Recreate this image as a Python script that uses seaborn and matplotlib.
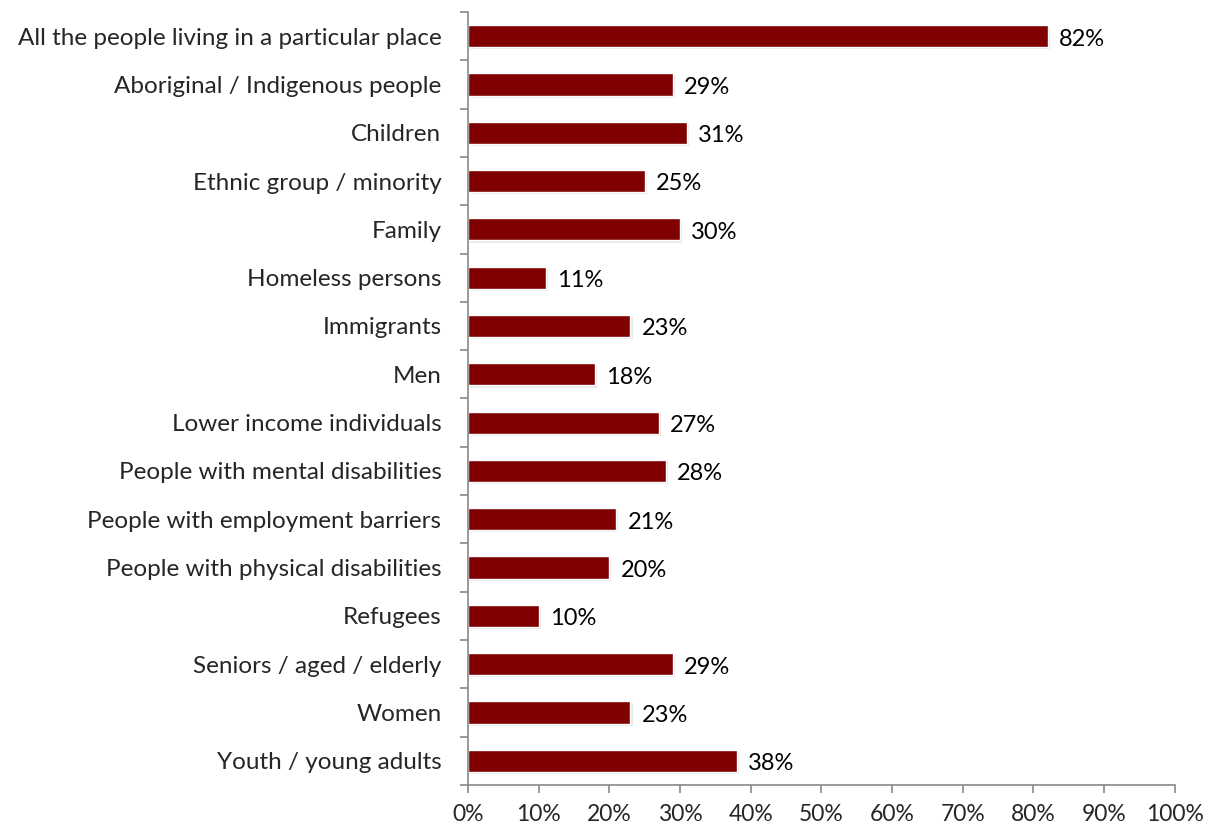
import matplotlib
matplotlib.use("Agg")
import matplotlib.pyplot as plt
import matplotlib.patheffects as pe
from matplotlib.ticker import FixedLocator, PercentFormatter
import seaborn as sns
import pandas as pd
import numpy as np

sns.set_style("white")
plt.rcParams["font.family"] = ["Lato", "DejaVu Sans"]

# data
categories = [
    "All the people living in a particular place",
    "Aboriginal / Indigenous people",
    "Children",
    "Ethnic group / minority",
    "Family",
    "Homeless persons",
    "Immigrants",
    "Men",
    "Lower income individuals",
    "People with mental disabilities",
    "People with employment barriers",
    "People with physical disabilities",
    "Refugees",
    "Seniors / aged / elderly",
    "Women",
    "Youth / young adults",
]
values = [82, 29, 31, 25, 30, 11, 23, 18, 27, 28, 21, 20, 10, 29, 23, 38]
x_ticks = list(range(0, 101, 10))

df = pd.DataFrame({"category": categories, "pct": values})

fig = plt.figure(figsize=(12.12, 8.31), dpi=100)
ax = fig.add_axes([0.386, 0.0554, 0.5834, 0.9302])

sns.barplot(data=df, x="pct", y="category", orient="h", color="#7f0000",
            saturation=1, width=0.46, ax=ax)

# faint drop shadow like the original
for p in ax.patches:
    p.set_path_effects([pe.SimplePatchShadow(offset=(1.5, -1.5), shadow_rgbFace="#aaaaaa", alpha=0.25),
                        pe.Normal()])

for i, v in enumerate(values):
    ax.text(v + 1.6, i + 0.06, f"{v}%", va="center", ha="left", fontsize=17, color="black")

ax.set_xlim(0, 100)
ax.set_ylim(len(categories) - 0.5, -0.5)
ax.set_xticks(x_ticks)
ax.xaxis.set_major_formatter(PercentFormatter(decimals=0))
ax.set_xlabel("")
ax.set_ylabel("")

# y tick marks at category boundaries only
ax.tick_params(axis="y", which="major", length=0, pad=19, labelsize=17.5)
ax.yaxis.set_minor_locator(FixedLocator(np.arange(-0.5, len(categories), 1.0)))
ax.tick_params(axis="y", which="minor", length=6, color="#898989", width=1.2, direction="out", left=True)
ax.tick_params(axis="x", which="major", length=6, color="#898989", width=1.2, direction="out",
               bottom=True, pad=8, labelsize=16.5)

for side in ["top", "right"]:
    ax.spines[side].set_visible(False)
for side in ["left", "bottom"]:
    ax.spines[side].set_color("#898989")
    ax.spines[side].set_linewidth(1.2)

fig.savefig("out.png", dpi=100)
